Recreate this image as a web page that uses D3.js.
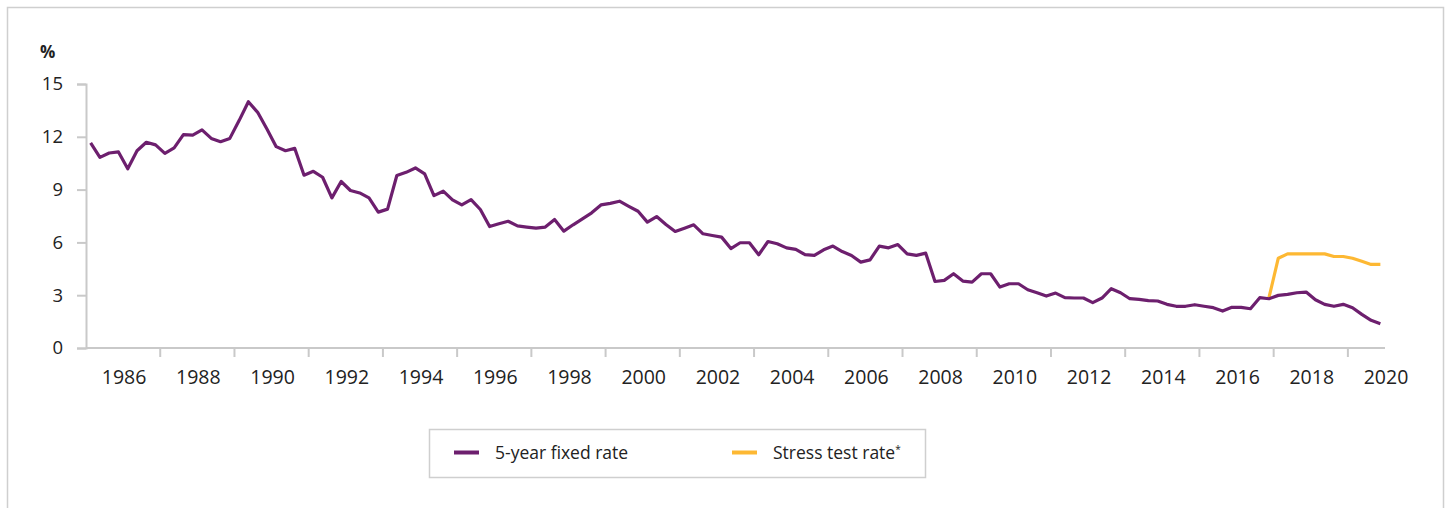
<!DOCTYPE html>
<html>
<head>
<meta charset="utf-8">
<script src="https://cdn.jsdelivr.net/npm/d3@7"></script>
<style>
  body { margin: 0; background: #fff; }
  svg { display: block; font-family: "Open Sans", "Noto Sans", sans-serif; }
</style>
</head>
<body>
<svg id="chart" width="1450" height="508"></svg>
<script>
// ---- data ----
const startYear = 1985;              // first quarter: 1985 Q1
const seriesNames = ["5-year fixed rate", "Stress test rate"];
const fixedRate = [
  11.65, 10.83, 11.08, 11.14,  // 1985
  10.18, 11.21, 11.69, 11.54,  // 1986
  11.06, 11.37, 12.12, 12.10,  // 1987
  12.39, 11.91, 11.72, 11.91,  // 1988
  12.92, 13.99, 13.39, 12.44,  // 1989
  11.44, 11.21, 11.34,  9.82,  // 1990
  10.04,  9.70,  8.53,  9.46,  // 1991
   8.95,  8.81,  8.53,  7.72,  // 1992
   7.89,  9.80,  9.98, 10.23,  // 1993
   9.89,  8.66,  8.91,  8.42,  // 1994
   8.13,  8.43,  7.87,  6.90,  // 1995
   7.06,  7.20,  6.94,  6.87,  // 1996
   6.81,  6.87,  7.30,  6.64,  // 1997
   7.00,  7.34,  7.68,  8.13,  // 1998
   8.22,  8.34,  8.05,  7.77,  // 1999
   7.15,  7.47,  7.02,  6.62,  // 2000
   6.81,  7.00,  6.49,  6.39,  // 2001
   6.30,  5.65,  5.98,  5.98,  // 2002
   5.30,  6.05,  5.92,  5.69,  // 2003
   5.60,  5.30,  5.26,  5.58,  // 2004
   5.79,  5.48,  5.26,  4.88,  // 2005
   5.01,  5.79,  5.69,  5.88,  // 2006
   5.35,  5.26,  5.39,  3.78,  // 2007
   3.84,  4.22,  3.80,  3.74,  // 2008
   4.22,  4.22,  3.46,  3.65,  // 2009
   3.65,  3.31,  3.14,  2.95,  // 2010
   3.12,  2.86,  2.84,  2.84,  // 2011
   2.58,  2.84,  3.37,  3.14,  // 2012
   2.80,  2.76,  2.69,  2.67,  // 2013
   2.48,  2.37,  2.37,  2.46,  // 2014
   2.37,  2.29,  2.10,  2.31,  // 2015
   2.31,  2.23,  2.86,  2.80,  // 2016
   2.99,  3.05,  3.14,  3.18,  // 2017
   2.74,  2.48,  2.37,  2.48,  // 2018
   2.29,  1.91,  1.57,  1.38   // 2019
];
const stressStartIndex = 127;        // 2016 Q4
const stressRate = [
  2.87, 5.10, 5.35, 5.35, 5.35, 5.35, 5.35, 5.20, 5.20, 5.10, 4.93, 4.75, 4.75
];
const yTicks = [0, 3, 6, 9, 12, 15];
const xLabelYears = [1986, 1988, 1990, 1992, 1994, 1996, 1998, 2000, 2002, 2004,
                     2006, 2008, 2010, 2012, 2014, 2016, 2018, 2020];
const xTickYears = [1987, 1989, 1991, 1993, 1995, 1997, 1999, 2001, 2003, 2005,
                    2007, 2009, 2011, 2013, 2015, 2017, 2019];
const colors = { fixed: "#6d1f6e", stress: "#fdb833" };

// ---- layout ----
const svg = d3.select("#chart");
const W = 1450, H = 508;
const plot = { left: 86, right: 1385, top: 84, bottom: 348 };

svg.append("rect").attr("width", W).attr("height", H).attr("fill", "#fff");
svg.append("rect")
  .attr("x", 7.5).attr("y", 7.5).attr("width", 1436).attr("height", 540)
  .attr("fill", "none").attr("stroke", "#cfcfcf").attr("stroke-width", 1.5);

const x = d3.scaleLinear().domain([1985, 2020]).range([plot.left, plot.right]);
const y = d3.scaleLinear().domain([0, 15]).range([plot.bottom, plot.top]);

const qPos = i => startYear + (i + 0.5) / 4;

// y axis
const yAxis = svg.append("g").attr("transform", `translate(${plot.left},0)`)
  .call(d3.axisLeft(y).tickValues(yTicks).tickSize(9).tickPadding(14).tickFormat(d3.format("d")));
yAxis.select(".domain").attr("stroke", "#c9c9c9").attr("stroke-width", 2);
yAxis.selectAll(".tick line").attr("stroke", "#c9c9c9").attr("stroke-width", 2);
yAxis.selectAll(".tick text").attr("fill", "#222").attr("font-size", 18.5)
  .attr("font-family", "'Open Sans', sans-serif");

// x axis: ticks at odd years, labels at even years
const xg = svg.append("g").attr("transform", `translate(0,${plot.bottom})`);
xg.append("line").attr("x1", plot.left).attr("x2", plot.right)
  .attr("stroke", "#c9c9c9").attr("stroke-width", 2);
xg.selectAll("line.tk").data(xTickYears).join("line").attr("class", "tk")
  .attr("x1", d => x(d)).attr("x2", d => x(d)).attr("y1", 0).attr("y2", 9)
  .attr("stroke", "#c9c9c9").attr("stroke-width", 2);
xg.selectAll("text").data(xLabelYears).join("text")
  .attr("x", d => x(d) + 1).attr("y", 36).attr("text-anchor", "middle")
  .attr("fill", "#222").attr("font-size", 19.5).text(d => d);

// unit label
svg.append("text").attr("x", 40).attr("y", 58).attr("font-size", 17)
  .attr("font-weight", "bold").attr("fill", "#222").text("%");

// lines
const line = d3.line().x(d => x(d[0])).y(d => y(d[1]));
const fixedPts = fixedRate.map((v, i) => [qPos(i), v]);
const stressPts = stressRate.map((v, i) => [qPos(stressStartIndex + i), v]);

svg.append("path").datum(stressPts).attr("d", line)
  .attr("fill", "none").attr("stroke", colors.stress).attr("stroke-width", 3.2)
  .attr("stroke-linejoin", "round");
svg.append("path").datum(fixedPts).attr("d", line)
  .attr("fill", "none").attr("stroke", colors.fixed).attr("stroke-width", 3.2)
  .attr("stroke-linejoin", "round");

// legend
const lg = svg.append("g");
lg.append("rect").attr("x", 429.5).attr("y", 429.5).attr("width", 496).attr("height", 48)
  .attr("fill", "#fff").attr("stroke", "#cfcfcf").attr("stroke-width", 1.5);
const legendItems = [
  { name: seriesNames[0], color: colors.fixed, x: 454 },
  { name: seriesNames[1], color: colors.stress, x: 732, sup: "*" }
];
legendItems.forEach(it => {
  lg.append("line").attr("x1", it.x).attr("x2", it.x + 25).attr("y1", 452.5).attr("y2", 452.5)
    .attr("stroke", it.color).attr("stroke-width", 4);
  const t = lg.append("text").attr("x", it.x + 41).attr("y", 459).attr("font-size", 17.5)
    .attr("fill", "#222").text(it.name);
  if (it.sup) t.append("tspan").attr("dy", -6).attr("font-size", 10).text(it.sup);
});
</script>
</body>
</html>
